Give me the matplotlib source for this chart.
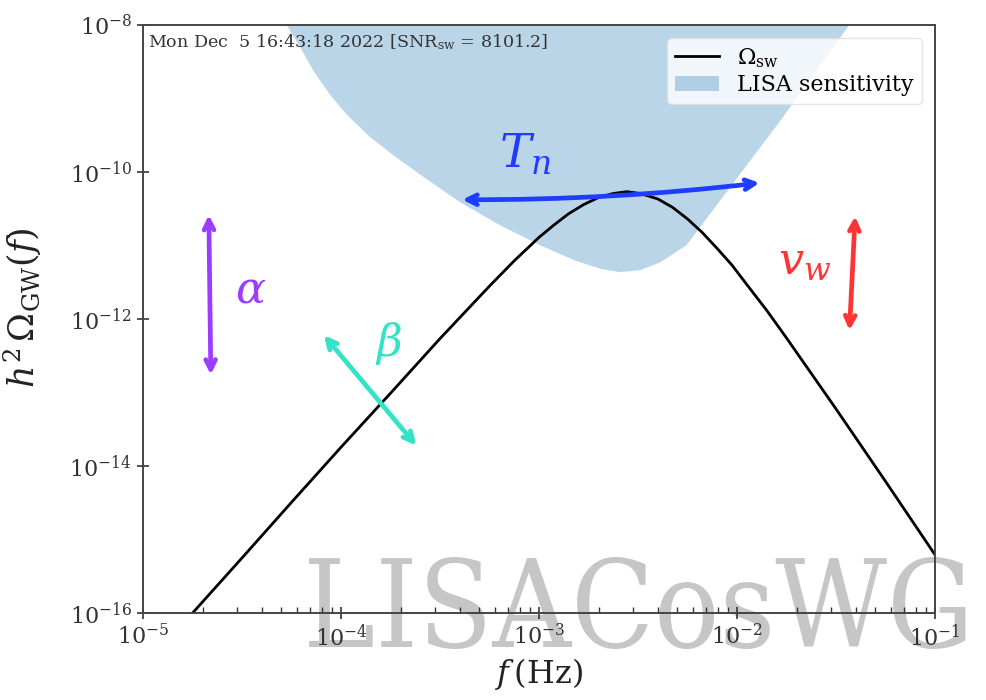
import matplotlib
matplotlib.use("Agg")
import matplotlib.pyplot as plt
from matplotlib.ticker import LogLocator, NullLocator, NullFormatter

plt.rcParams["font.family"] = ["DejaVu Serif"]
plt.rcParams["mathtext.fontset"] = "dejavuserif"

# Sound-wave spectrum h^2 Omega_sw(f)
freq_sw = [1.0e-5, 1.78e-5, 3.16e-5, 5.62e-5, 1.0e-4, 1.78e-4, 3.16e-4, 5.62e-4,
           7.5e-4, 1.0e-3, 1.19e-3, 1.41e-3, 1.68e-3, 2.0e-3, 2.37e-3, 2.78e-3,
           3.24e-3, 3.98e-3, 4.73e-3, 5.62e-3, 6.68e-3, 7.94e-3, 9.44e-3, 1.12e-2,
           1.41e-2, 1.78e-2, 3.16e-2, 5.62e-2, 1.0e-1]
omega_sw = [1.78e-17, 1.0e-16, 5.6e-16, 3.2e-15, 1.8e-14, 9.8e-14, 5.4e-13, 2.8e-12,
            6.2e-12, 1.29e-11, 1.9e-11, 2.7e-11, 3.6e-11, 4.5e-11, 5.1e-11, 5.4e-11,
            5.1e-11, 4.3e-11, 3.3e-11, 2.3e-11, 1.5e-11, 9.1e-12, 5.4e-12, 2.95e-12,
            1.32e-12, 5.5e-13, 6.0e-14, 6.2e-15, 6.2e-16]

# LISA power-law sensitivity (lower edge of the shaded band)
freq_lisa = [5.3e-5, 6.2e-5, 7.3e-5, 8.8e-5, 1.07e-4, 1.40e-4, 1.92e-4, 2.75e-4,
             3.99e-4, 6.35e-4, 1.01e-3, 1.52e-3, 2.03e-3, 2.56e-3, 3.24e-3, 4.08e-3,
             5.52e-3, 8.2e-3, 1.16e-2, 1.65e-2, 2.45e-2, 3.65e-2]
omega_lisa = [1.0e-8, 5.0e-9, 2.29e-9, 1.12e-9, 6.0e-10, 3.0e-10, 1.55e-10, 7.8e-11,
              3.9e-11, 1.9e-11, 1.02e-11, 6.3e-12, 4.9e-12, 4.4e-12, 4.7e-12, 6.0e-12,
              1.02e-11, 4.2e-11, 1.45e-10, 5.1e-10, 2.24e-9, 1.0e-8]
omega_top = 1e-8

snr_text = r"Mon Dec  5 16:43:18 2022 [SNR$_{\rm sw}$ = 8101.2]"

x_ticks = [1e-5, 1e-4, 1e-3, 1e-2, 1e-1]
y_ticks = [1e-16, 1e-14, 1e-12, 1e-10, 1e-8]

fig = plt.figure(figsize=(9.87, 7.0), dpi=100, facecolor="white")
ax = fig.add_axes([0.1449, 0.1243, 0.8024, 0.84])
ax.set_facecolor("none")

h_fill = ax.fill_between(freq_lisa, omega_lisa, omega_top, color="C0", alpha=0.3,
                         linewidth=0, label="LISA sensitivity")
h_line, = ax.plot(freq_sw, omega_sw, color="black", lw=2.0,
                  label=r"$\Omega_{\rm sw}$")

ax.set_xscale("log")
ax.set_yscale("log")
ax.set_xlim(1e-5, 1e-1)
ax.set_ylim(1e-16, 1e-8)
ax.set_xticks(x_ticks)
ax.set_yticks(y_ticks)
ax.xaxis.set_minor_locator(LogLocator(base=10, subs=range(2, 10), numticks=20))
ax.xaxis.set_minor_formatter(NullFormatter())
ax.yaxis.set_minor_locator(NullLocator())

ax.tick_params(which="major", direction="inout", length=9, width=1.2,
               labelsize=16, colors="#333333")
ax.tick_params(which="minor", direction="in", length=4, width=1.0, colors="#333333")
for s in ax.spines.values():
    s.set_color("#444444")
    s.set_linewidth(1.4)

ax.set_xlabel(r"$f\,$(Hz)", fontsize=23, color="#222222", labelpad=4)
ax.set_ylabel(r"$h^2\,\Omega_{\rm GW}(f)$", fontsize=25, color="#222222")
ax.yaxis.set_label_coords(-0.125, 0.52)

ax.text(0.006, 0.988, snr_text, transform=ax.transAxes, ha="left", va="top",
        fontsize=12.6, color="#333333")

leg = ax.legend([h_line, h_fill], [r"$\Omega_{\rm sw}$", "LISA sensitivity"],
                loc="upper right", fontsize=16, frameon=True, fancybox=True,
                borderpad=0.35, labelspacing=0.2, handlelength=2.0,
                borderaxespad=0.6)
leg.get_frame().set_edgecolor("#dddddd")

# Parameter annotations
def arrow(p0, p1, color, rad=0.0):
    ax.annotate("", xy=p1, xytext=p0,
                arrowprops=dict(arrowstyle="<->,head_length=0.7,head_width=0.35",
                                color=color, lw=3.4, capstyle="round",
                                joinstyle="round", shrinkA=0, shrinkB=0,
                                connectionstyle=f"arc3,rad={rad}"))

blue, purple, teal, red = "#1f3dff", "#9b3cff", "#33e3c6", "#ff3535"

arrow((4.1e-4, 4.2e-11), (1.3e-2, 7.1e-11), blue, rad=0.03)
ax.text(8.5e-4, 1.7e-10, r"$T_n$", color=blue, fontsize=34, ha="center", va="center")

arrow((2.2e-5, 1.75e-13), (2.15e-5, 2.6e-11), purple)
ax.text(3.5e-5, 2.5e-12, r"$\alpha$", color=purple, fontsize=32, ha="center", va="center")

arrow((8.2e-5, 6.0e-13), (2.4e-4, 1.9e-14), teal)
ax.text(1.75e-4, 4.6e-13, r"$\beta$", color=teal, fontsize=32, ha="center", va="center")

arrow((3.95e-2, 2.5e-11), (3.7e-2, 7.0e-13), red)
ax.text(2.2e-2, 6.0e-12, r"$v_w$", color=red, fontsize=32, ha="center", va="center")

# Working-group watermark
fig.text(303 / 987, 1 - 647 / 700, "LISACosWG", fontsize=87, color="#c6c6c6",
         family="DejaVu Serif", fontstretch="condensed",
         ha="left", va="baseline", zorder=-1)

fig.savefig("out.png", dpi=100, facecolor="white")
